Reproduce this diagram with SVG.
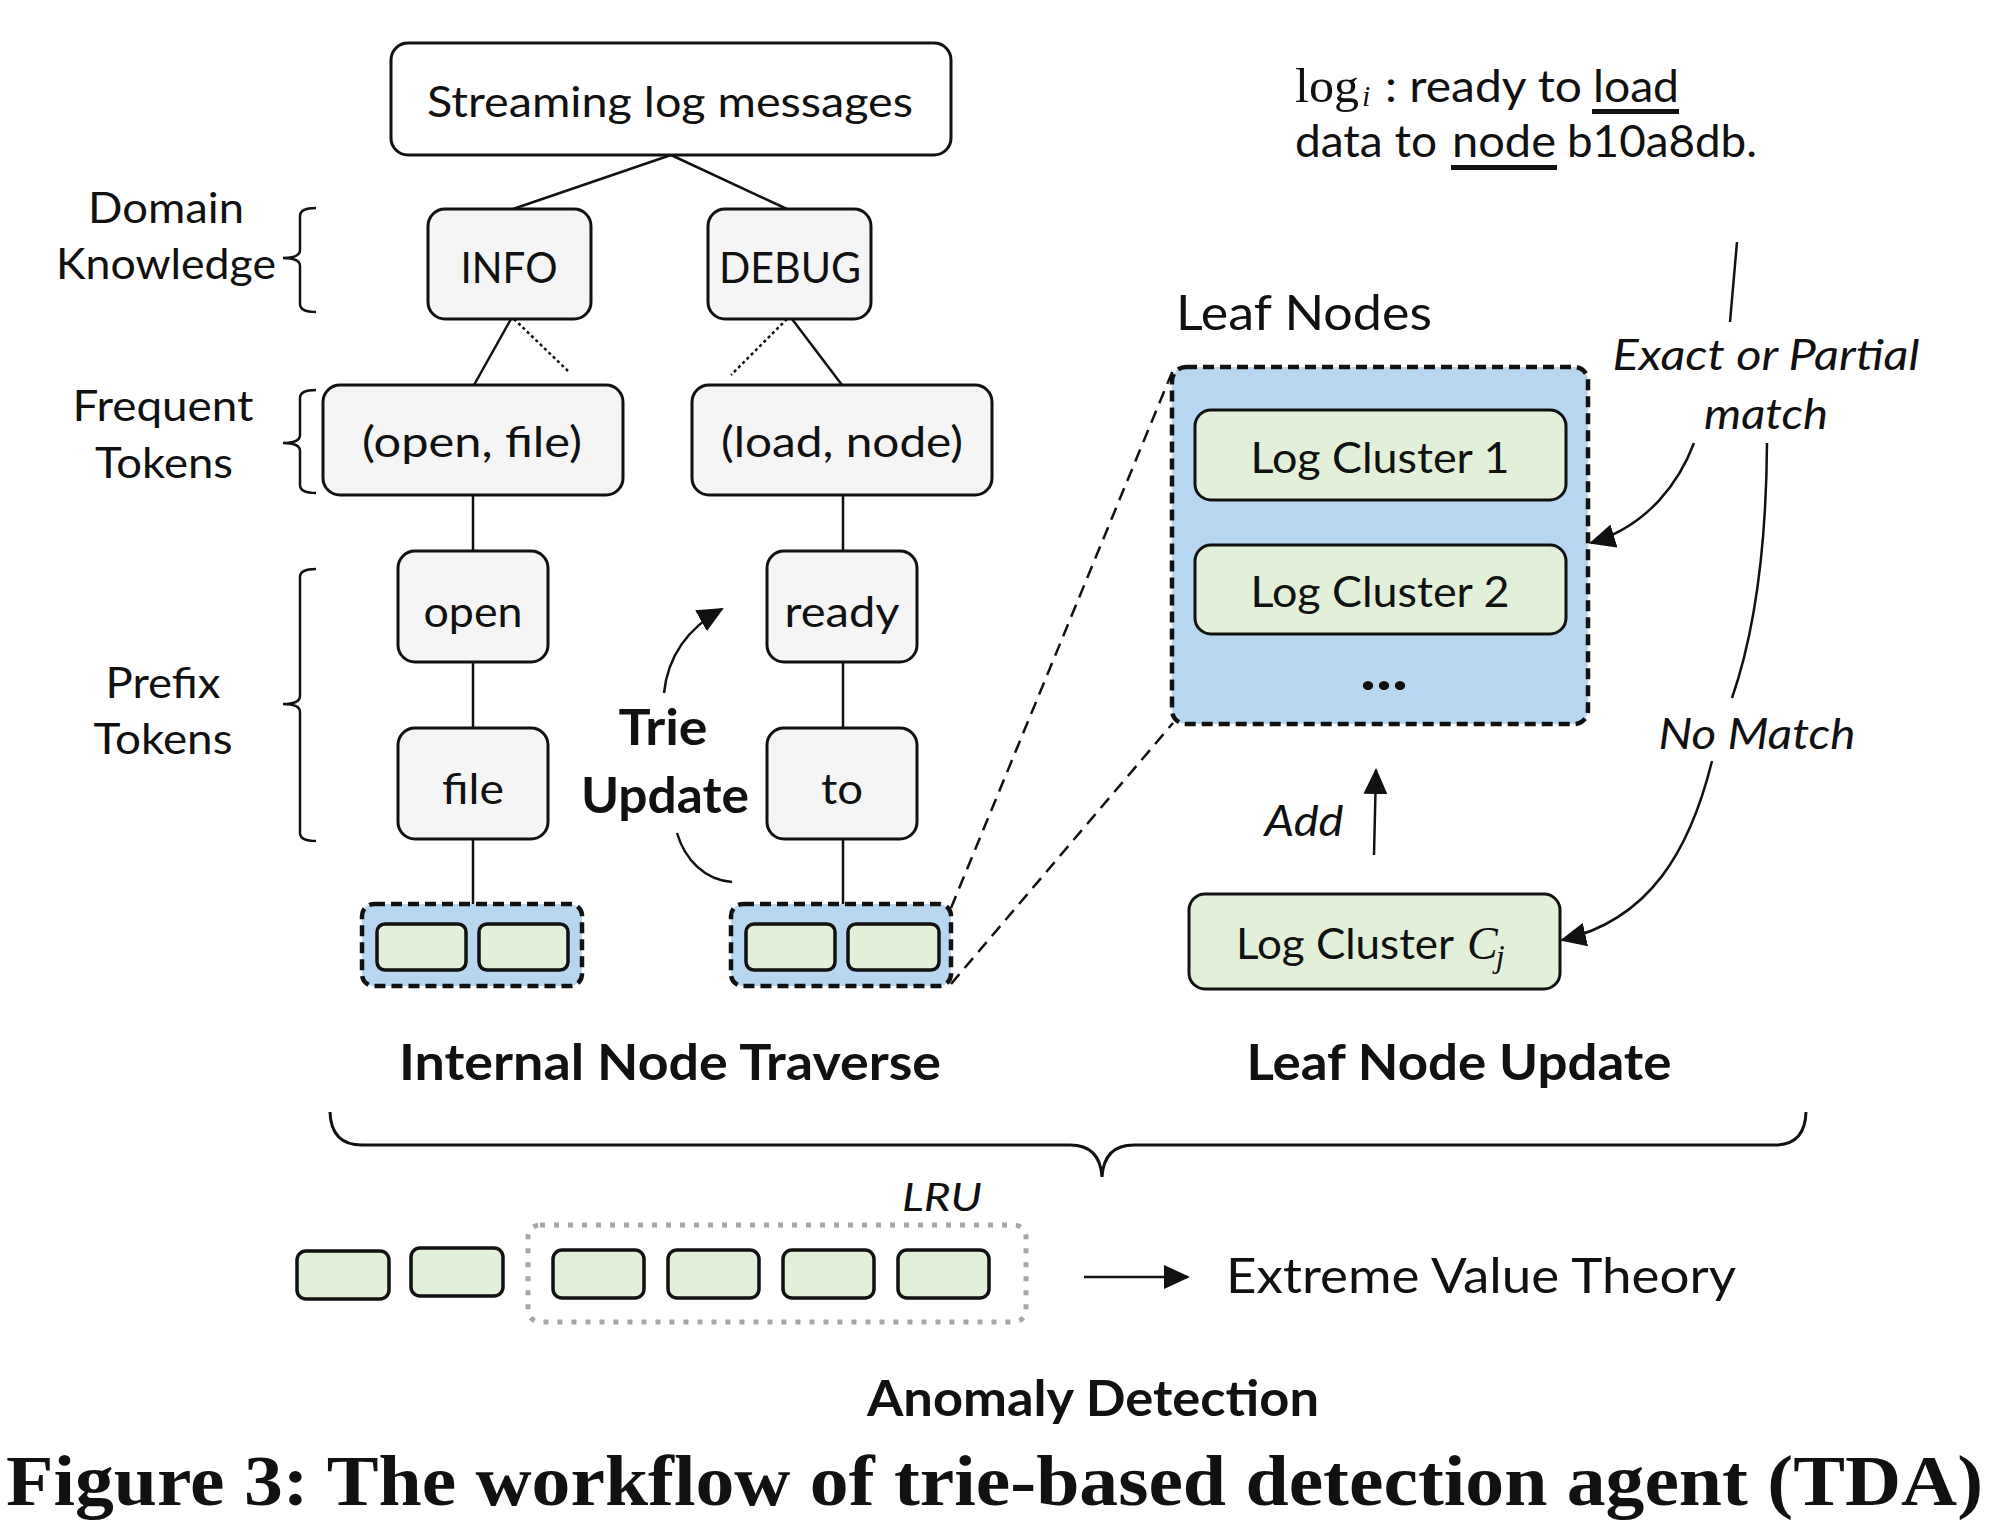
<svg xmlns="http://www.w3.org/2000/svg" width="2000" height="1529" viewBox="0 0 2000 1529">
<defs>
<style>
.t{font-family:Lato,"Open Sans","Liberation Sans",sans-serif;font-size:43px;fill:#111}
.tb{font-family:Lato,"Open Sans","Liberation Sans",sans-serif;font-size:50px;font-weight:bold;fill:#111}
.ti{font-family:Lato,"Open Sans","Liberation Sans",sans-serif;font-size:43px;font-style:italic;fill:#111}
.m{font-family:"Liberation Serif","DejaVu Serif",serif;fill:#111}
.node{fill:#f5f5f5;stroke:#111;stroke-width:3}
.cell{fill:#e2f0d9;stroke:#111;stroke-width:3.5}
.grp{fill:#b6d7ef;stroke:#111;stroke-width:4.5;stroke-dasharray:11 6}
.ln{fill:none;stroke:#111;stroke-width:2.5}
.dot{fill:none;stroke:#111;stroke-width:2.5;stroke-dasharray:3 3}
.dash{fill:none;stroke:#111;stroke-width:2.5;stroke-dasharray:13 8}
.br{fill:none;stroke:#111;stroke-width:2.5}
</style>
<marker id="ah" viewBox="0 0 26 24" refX="24" refY="12" markerWidth="26" markerHeight="24" markerUnits="userSpaceOnUse" orient="auto">
<path d="M0,0 L26,12 L0,24 z" fill="#111"/>
</marker>
</defs>
<rect width="2000" height="1529" fill="#fff"/>

<g id="connectors">
<line class="ln" x1="671" y1="155" x2="513" y2="209"/>
<line class="ln" x1="671" y1="155" x2="787" y2="209"/>
<line class="ln" x1="511" y1="319" x2="474" y2="385"/>
<line class="dot" x1="514" y1="319" x2="568" y2="371"/>
<line class="ln" x1="792" y1="319" x2="842" y2="385"/>
<line class="dot" x1="787" y1="319" x2="731" y2="375"/>
<line class="ln" x1="473" y1="495" x2="473" y2="551"/>
<line class="ln" x1="473" y1="662" x2="473" y2="728"/>
<line class="ln" x1="473" y1="839" x2="473" y2="904"/>
<line class="ln" x1="843" y1="495" x2="843" y2="551"/>
<line class="ln" x1="843" y1="662" x2="843" y2="728"/>
<line class="ln" x1="843" y1="839" x2="843" y2="904"/>
<line class="dash" x1="951" y1="908" x2="1173" y2="370"/>
<line class="dash" x1="951" y1="984" x2="1173" y2="723"/>
<path class="ln" d="M664,693 C668,655 688,628 722,609" marker-end="url(#ah)"/>
<path class="ln" d="M677,833 C685,860 705,880 732,882"/>
<path class="ln" d="M1737,242 L1730,322"/>
<path class="ln" d="M1694,443 C1680,480 1650,525 1591,543" marker-end="url(#ah)"/>
<path class="ln" d="M1767,443 Q1766,600 1732,698"/>
<path class="ln" d="M1712,761 C1690,850 1650,920 1562,940" marker-end="url(#ah)"/>
<path class="ln" d="M1374,855 L1376,770" marker-end="url(#ah)"/>
<path class="ln" d="M1084,1277 L1188,1277" marker-end="url(#ah)"/>
</g>

<g id="brackets">
<path class="br" d="M316,208 Q300,208 300,216 L300,250 Q300,258 283,258 Q300,258 300,266 L300,304 Q300,312 316,312"/>
<path class="br" d="M316,390 Q300,390 300,398 L300,435 Q300,443 283,443 Q300,443 300,451 L300,485 Q300,493 316,493"/>
<path class="br" d="M316,569 Q300,569 300,577 L300,696 Q300,704 283,704 Q300,704 300,712 L300,833 Q300,841 316,841"/>
<path d="M330,1112 Q331,1145 362,1145 L1070,1145 Q1100,1145 1102,1177 Q1104,1145 1134,1145 L1775,1145 Q1805,1145 1806,1112" fill="none" stroke="#111" stroke-width="3"/>
</g>

<g id="labels">
<text class="t" x="166" y="223" text-anchor="middle" textLength="156" lengthAdjust="spacingAndGlyphs">Domain</text>
<text class="t" x="166" y="279" text-anchor="middle" textLength="220" lengthAdjust="spacingAndGlyphs">Knowledge</text>
<text class="t" x="163" y="421" text-anchor="middle" textLength="181" lengthAdjust="spacingAndGlyphs">Frequent</text>
<text class="t" x="164" y="478" text-anchor="middle" textLength="138" lengthAdjust="spacingAndGlyphs">Tokens</text>
<text class="t" x="163" y="698" text-anchor="middle" textLength="115" lengthAdjust="spacingAndGlyphs">Prefix</text>
<text class="t" x="163" y="754" text-anchor="middle" textLength="139" lengthAdjust="spacingAndGlyphs">Tokens</text>
<text class="tb" x="663" y="745" text-anchor="middle" textLength="89" lengthAdjust="spacingAndGlyphs">Trie</text>
<text class="tb" x="665" y="813" text-anchor="middle" textLength="168" lengthAdjust="spacingAndGlyphs">Update</text>
<text class="tb" x="670" y="1080" text-anchor="middle" textLength="542" lengthAdjust="spacingAndGlyphs">Internal Node Traverse</text>
<text class="tb" x="1459" y="1080" text-anchor="middle" textLength="425" lengthAdjust="spacingAndGlyphs">Leaf Node Update</text>
<text class="t" x="1176" y="330" style="font-size:48px" textLength="256" lengthAdjust="spacingAndGlyphs">Leaf Nodes</text>
<text class="ti" x="1766" y="370" text-anchor="middle" textLength="307" lengthAdjust="spacingAndGlyphs">Exact or Partial</text>
<text class="ti" x="1766" y="429" text-anchor="middle" textLength="124" lengthAdjust="spacingAndGlyphs">match</text>
<text class="ti" x="1757" y="749" text-anchor="middle" textLength="197" lengthAdjust="spacingAndGlyphs">No Match</text>
<text class="ti" x="1304" y="836" text-anchor="middle" textLength="79" lengthAdjust="spacingAndGlyphs">Add</text>
<text class="ti" x="942" y="1211" text-anchor="middle" style="font-size:38px" textLength="80" lengthAdjust="spacingAndGlyphs">LRU</text>
<text class="t" x="1226" y="1293" style="font-size:48px" textLength="510" lengthAdjust="spacingAndGlyphs">Extreme Value Theory</text>
<text class="tb" x="1093" y="1416" text-anchor="middle" textLength="452" lengthAdjust="spacingAndGlyphs">Anomaly Detection</text>
<text x="6" y="1505" font-family="'Liberation Serif','DejaVu Serif',serif" font-weight="bold" font-size="71" fill="#111" textLength="1977" lengthAdjust="spacingAndGlyphs">Figure 3: The workflow of trie-based detection agent (TDA)</text>
</g>

<g id="log-message">
<text class="t" style="font-size:44px"><tspan class="m" x="1295" y="102" font-size="49" textLength="64" lengthAdjust="spacingAndGlyphs">log</tspan><tspan class="m" x="1362" y="106" font-size="30" font-style="italic">i</tspan><tspan x="1385" y="102" textLength="197" lengthAdjust="spacingAndGlyphs">: ready to</tspan><tspan x="1593" y="102" textLength="86" lengthAdjust="spacingAndGlyphs">load</tspan><tspan x="1295" y="157" textLength="142" lengthAdjust="spacingAndGlyphs">data to</tspan><tspan x="1452" y="157" textLength="104" lengthAdjust="spacingAndGlyphs">node</tspan><tspan x="1567" y="157" textLength="190" lengthAdjust="spacingAndGlyphs">b10a8db.</tspan></text>
<rect x="1592" y="109" width="87" height="5" fill="#111"/>
<rect x="1451" y="165" width="106" height="5" fill="#111"/>
</g>

<g id="node-streaming">
<rect x="391" y="43" width="560" height="112" rx="17" fill="#fff" stroke="#111" stroke-width="3"/>
<text class="t" x="670" y="117" text-anchor="middle" textLength="486" lengthAdjust="spacingAndGlyphs">Streaming log messages</text>
</g>
<g id="node-info">
<rect class="node" x="428" y="209" width="163" height="110" rx="17"/>
<text class="t" x="509" y="283" text-anchor="middle" textLength="97" lengthAdjust="spacingAndGlyphs">INFO</text>
</g>
<g id="node-debug">
<rect class="node" x="708" y="209" width="163" height="110" rx="17"/>
<text class="t" x="790" y="283" text-anchor="middle" textLength="142" lengthAdjust="spacingAndGlyphs">DEBUG</text>
</g>
<g id="node-open-file">
<rect class="node" x="323" y="385" width="300" height="110" rx="17"/>
<text class="t" x="472" y="457" text-anchor="middle" textLength="220" lengthAdjust="spacingAndGlyphs">(open, file)</text>
</g>
<g id="node-load-node">
<rect class="node" x="692" y="385" width="300" height="110" rx="17"/>
<text class="t" x="842" y="457" text-anchor="middle" textLength="242" lengthAdjust="spacingAndGlyphs">(load, node)</text>
</g>
<g id="node-open">
<rect class="node" x="398" y="551" width="150" height="111" rx="17"/>
<text class="t" x="473" y="627" text-anchor="middle" textLength="99" lengthAdjust="spacingAndGlyphs">open</text>
</g>
<g id="node-file">
<rect class="node" x="398" y="728" width="150" height="111" rx="17"/>
<text class="t" x="473" y="804" text-anchor="middle" textLength="62" lengthAdjust="spacingAndGlyphs">file</text>
</g>
<g id="node-ready">
<rect class="node" x="767" y="551" width="150" height="111" rx="17"/>
<text class="t" x="842" y="627" text-anchor="middle" textLength="115" lengthAdjust="spacingAndGlyphs">ready</text>
</g>
<g id="node-to">
<rect class="node" x="767" y="728" width="150" height="111" rx="17"/>
<text class="t" x="842" y="804" text-anchor="middle" textLength="42" lengthAdjust="spacingAndGlyphs">to</text>
</g>
<g id="leaf-group-left">
<rect class="grp" x="362" y="904" width="220" height="82" rx="12"/>
<rect class="cell" x="377" y="924" width="89" height="46" rx="8"/>
<rect class="cell" x="479" y="924" width="89" height="46" rx="8"/>
</g>
<g id="leaf-group-right">
<rect class="grp" x="731" y="904" width="220" height="82" rx="12"/>
<rect class="cell" x="746" y="924" width="89" height="46" rx="8"/>
<rect class="cell" x="848" y="924" width="91" height="46" rx="8"/>
</g>
<g id="leaf-nodes">
<rect class="grp" x="1172" y="367" width="416" height="357" rx="14"/>
<rect class="cell" x="1195" y="410" width="371" height="90" rx="16" style="stroke-width:3"/>
<text class="t" x="1380" y="473" text-anchor="middle" style="font-size:42px" textLength="259" lengthAdjust="spacingAndGlyphs">Log Cluster 1</text>
<rect class="cell" x="1195" y="545" width="371" height="89" rx="16" style="stroke-width:3"/>
<text class="t" x="1380" y="607" text-anchor="middle" style="font-size:42px" textLength="259" lengthAdjust="spacingAndGlyphs">Log Cluster 2</text>
<text class="tb" x="1384" y="690" text-anchor="middle" style="font-size:60px" textLength="48" lengthAdjust="spacingAndGlyphs">...</text>
</g>
<g id="node-cluster-cj">
<rect class="cell" x="1189" y="894" width="371" height="95" rx="16" style="stroke-width:3"/>
<text class="t" x="1236" y="959" style="font-size:42px" textLength="218" lengthAdjust="spacingAndGlyphs">Log Cluster</text>
<text class="m" x="1467" y="959" font-size="46" font-style="italic">C<tspan font-size="32" dx="-2" dy="8">j</tspan></text>
</g>
<g id="lru">
<rect x="528" y="1225" width="498" height="97" rx="12" fill="none" stroke="#a6a6a6" stroke-width="5" stroke-dasharray="5 9"/>
<rect class="cell" x="297" y="1251" width="92" height="48" rx="9"/>
<rect class="cell" x="411" y="1248" width="92" height="48" rx="9"/>
<rect class="cell" x="553" y="1250" width="91" height="48" rx="9"/>
<rect class="cell" x="668" y="1250" width="91" height="48" rx="9"/>
<rect class="cell" x="783" y="1250" width="91" height="48" rx="9"/>
<rect class="cell" x="898" y="1250" width="91" height="48" rx="9"/>
</g>
</svg>
